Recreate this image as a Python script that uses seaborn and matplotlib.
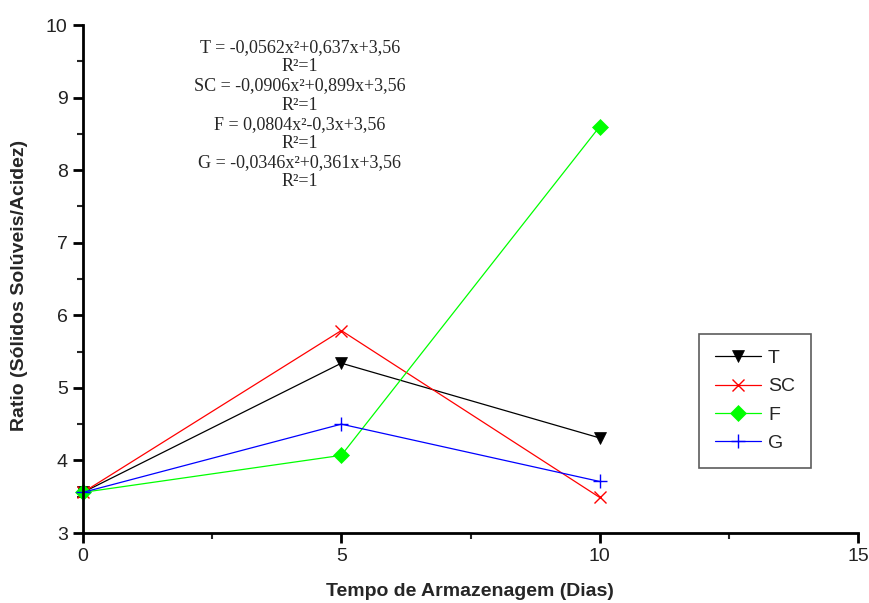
import matplotlib
matplotlib.use("Agg")
import matplotlib.pyplot as plt
from matplotlib.ticker import MultipleLocator
import seaborn as sns
import pandas as pd

sns.set_style("white")
plt.rcParams["font.family"] = ["Liberation Sans", "DejaVu Sans"]

dias = [0, 5, 10]
series_names = ["T", "SC", "F", "G"]
ratio_T = [3.56, 5.34, 4.31]
ratio_SC = [3.56, 5.79, 3.49]
ratio_F = [3.56, 4.07, 8.60]
ratio_G = [3.56, 4.50, 3.71]

equations = [
    "T = -0,0562x²+0,637x+3,56",
    "R²=1",
    "SC = -0,0906x²+0,899x+3,56",
    "R²=1",
    "F = 0,0804x²-0,3x+3,56",
    "R²=1",
    "G = -0,0346x²+0,361x+3,56",
    "R²=1",
]

values = {"T": ratio_T, "SC": ratio_SC, "F": ratio_F, "G": ratio_G}
df = pd.DataFrame(
    [(d, v, s) for s in series_names for d, v in zip(dias, values[s])],
    columns=["Dias", "Ratio", "Tratamento"],
)

colors = {"T": "#000000", "SC": "#FF0000", "F": "#00FF00", "G": "#0000FF"}
markers = {"T": "v", "SC": "x", "F": "D", "G": "+"}
msizes = {"T": 9, "SC": 9, "F": 8, "G": 10}

fig = plt.figure(figsize=(8.69, 6.03), dpi=100)
ax = fig.add_axes([83 / 869, 1 - 533 / 603, (858 - 83) / 869, (533 - 25) / 603])

for s in series_names:
    sub = df[df["Tratamento"] == s]
    sns.lineplot(
        data=sub, x="Dias", y="Ratio", ax=ax, color=colors[s],
        marker=markers[s], markersize=msizes[s], linewidth=0.9,
        markeredgewidth=1.0 if s in ("SC", "G") else 0.5,
        markeredgecolor=colors[s], label=s, clip_on=False,
    )

ax.set_xlim(0, 15)
ax.set_ylim(3, 10)
ax.xaxis.set_major_locator(MultipleLocator(5))
ax.xaxis.set_minor_locator(MultipleLocator(2.5))
ax.yaxis.set_major_locator(MultipleLocator(1))
ax.yaxis.set_minor_locator(MultipleLocator(0.5))

for side in ("top", "right"):
    ax.spines[side].set_visible(False)
for side in ("left", "bottom"):
    ax.spines[side].set_linewidth(2)
    ax.spines[side].set_color("black")

ax.tick_params(which="major", direction="out", length=7, width=2,
               labelsize=14, colors="black", labelcolor="#222222", pad=4,
               bottom=True, left=True)
ax.tick_params(which="minor", direction="out", length=4, width=1.5,
               bottom=True, left=True)

ax.set_xlabel("")
ax.set_ylabel("")
fig.text(470 / 869, 1 - 591 / 603, "Tempo de Armazenagem (Dias)",
         ha="center", va="center", fontsize=14, fontweight="bold")
fig.text(20 / 869, 1 - 285 / 603, "Ratio (Sólidos Solúveis/Acidez)",
         ha="center", va="center", rotation=90, fontsize=14, fontweight="bold")

ax.text(300 / 869, 1 - 39 / 603, "\n".join(equations), transform=fig.transFigure,
        ha="center", va="top", fontsize=13, linespacing=1.17,
        family=["Liberation Serif", "DejaVu Serif"])

leg = ax.legend(loc="upper left", bbox_to_anchor=(699 / 869, 1 - 334 / 603),
                bbox_transform=fig.transFigure, frameon=True, fancybox=False,
                edgecolor="#333333", fontsize=14, handlelength=2.4,
                borderpad=0.8, labelspacing=0.55, handletextpad=0.35,
                borderaxespad=0)
leg.get_frame().set_linewidth(1.2)

fig.savefig("out.png", dpi=100)
